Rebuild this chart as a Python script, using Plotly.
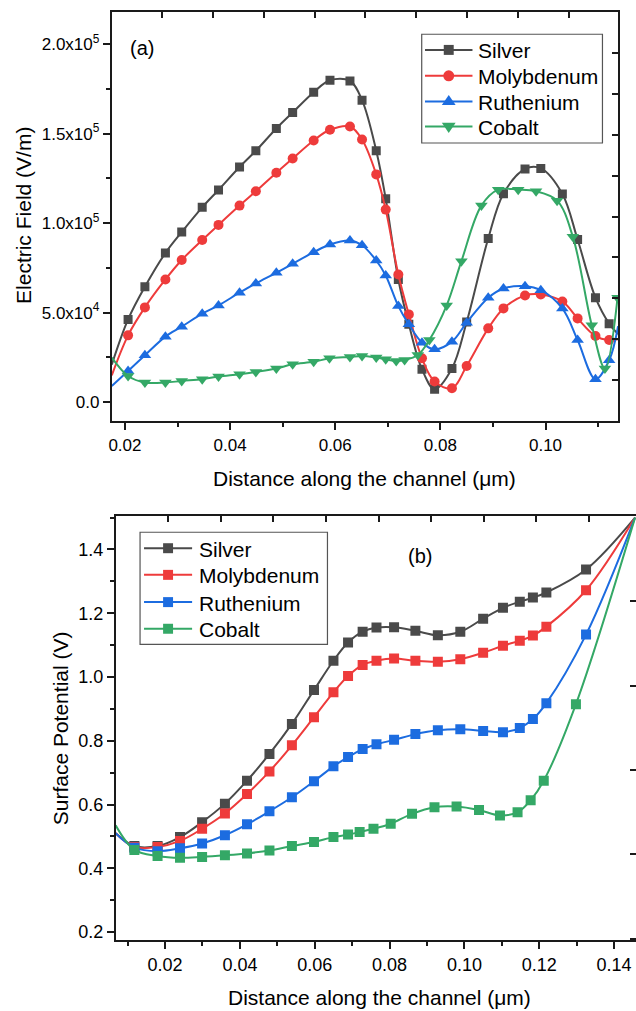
import plotly.graph_objects as go

W, H = 636, 1011

# ---------------- (a) Electric field data ----------------
x_a = [0.0206, 0.0238, 0.0277, 0.0308, 0.0347, 0.0378, 0.0418, 0.0449, 0.0488, 0.0519,
       0.0559, 0.0590, 0.0628, 0.0651, 0.0678, 0.0696, 0.0720, 0.0740, 0.0765, 0.0789,
       0.0822, 0.0850, 0.0891, 0.0920, 0.0961, 0.0991, 0.1032, 0.1061, 0.1095, 0.1121]
ef_silver = [46264, 64491, 83331, 95037, 108860, 118560, 131380, 140465, 152895, 161813,
             173184, 179873, 179483, 168725, 140465, 113710, 68560, 43477, 18394, 7246,
             18784, 44759, 91414, 116497, 130264, 130598, 116329, 90856, 58360, 43867]
ef_moly = [37346, 52953, 68560, 79430, 90578, 99050, 109808, 117780, 128202, 136173,
           146206, 152170, 154010, 146763, 127254, 107578, 71347, 49051, 24526, 11538,
           7804, 20234, 41248, 52396, 59642, 60199, 56297, 46822, 36956, 34726]
ef_ruth = [17447, 26198, 36621, 42195, 49441, 54068, 61147, 66331, 72295, 77311,
           83777, 88069, 90299, 87679, 79151, 70790, 53678, 43477, 33277, 29542,
           33834, 44425, 58360, 63544, 64826, 62596, 52396, 34726, 12820, 23411]
x_a_co = [0.0206, 0.0238, 0.0277, 0.0308, 0.0347, 0.0378, 0.0418, 0.0449, 0.0488, 0.0519,
          0.0559, 0.0589, 0.0628, 0.0651, 0.0678, 0.0696, 0.0716, 0.0732, 0.0757, 0.0779,
          0.0812, 0.0840, 0.0878, 0.0910, 0.0948, 0.0982, 0.1022, 0.1052, 0.1088, 0.1113, 0.1137]
ef_cobalt = [14660, 10981, 10981, 11873, 12820, 14325, 15607, 16889, 18784, 21181,
             22575, 24526, 25250, 25808, 24916, 23968, 23021, 23578, 26365, 34726,
             54068, 78761, 109808, 118726, 118726, 117780, 112595, 92362, 42920, 18784, 58360]
# curve values at the plot edges (line only, no marker)
a_left_x, a_right_x = 0.0175, 0.1138
a_left = {"Silver": 21000, "Molybdenum": 15000, "Ruthenium": 9100, "Cobalt": 24900}
a_right = {"Silver": 38000, "Molybdenum": 35100, "Ruthenium": 42500, "Cobalt": None}

# ---------------- (b) Surface potential data ----------------
x_b = [0.0118, 0.0180, 0.0240, 0.0299, 0.0360, 0.0419, 0.0479, 0.0539, 0.0598, 0.0650,
       0.0689, 0.0728, 0.0765, 0.0812, 0.0869, 0.0929, 0.0989, 0.1050, 0.1103, 0.1148,
       0.1183, 0.1219, 0.1325]
sp_silver = [0.470, 0.470, 0.498, 0.545, 0.603, 0.675, 0.759, 0.853, 0.959, 1.051,
             1.108, 1.142, 1.155, 1.156, 1.145, 1.131, 1.142, 1.183, 1.217, 1.236,
             1.249, 1.265, 1.337]
sp_moly = [0.467, 0.467, 0.486, 0.524, 0.572, 0.633, 0.704, 0.786, 0.874, 0.952,
           1.003, 1.038, 1.051, 1.058, 1.051, 1.048, 1.056, 1.076, 1.098, 1.114,
           1.130, 1.158, 1.272]
sp_ruth = [0.465, 0.454, 0.463, 0.478, 0.504, 0.538, 0.579, 0.623, 0.673, 0.720,
           0.749, 0.774, 0.789, 0.803, 0.821, 0.833, 0.836, 0.831, 0.827, 0.840,
           0.868, 0.918, 1.133]
x_b_co = [0.0118, 0.0180, 0.0240, 0.0299, 0.0360, 0.0419, 0.0479, 0.0539, 0.0598, 0.0650,
          0.0689, 0.0720, 0.0757, 0.0803, 0.0860, 0.0920, 0.0979, 0.1039, 0.1095, 0.1142,
          0.1177, 0.1212, 0.1298]
sp_cobalt = [0.458, 0.439, 0.433, 0.436, 0.441, 0.447, 0.456, 0.470, 0.483, 0.498,
             0.506, 0.514, 0.524, 0.540, 0.571, 0.592, 0.594, 0.583, 0.566, 0.576,
             0.614, 0.675, 0.915]
b_left_x, b_right_x = 0.0068, 0.1456
b_left = {"Silver": 0.51, "Molybdenum": 0.51, "Ruthenium": 0.51, "Cobalt": 0.535}
b_right = {"Silver": 1.50, "Molybdenum": 1.50, "Ruthenium": 1.50, "Cobalt": 1.50}

names = ["Silver", "Molybdenum", "Ruthenium", "Cobalt"]
colors = {"Silver": "#4a4a4a", "Molybdenum": "#ee3b3b", "Ruthenium": "#1c6ce0", "Cobalt": "#34a866"}
symbols_a = {"Silver": "square", "Molybdenum": "circle", "Ruthenium": "triangle-up", "Cobalt": "triangle-down"}
sizes_a = {"Silver": 9, "Molybdenum": 10, "Ruthenium": 11, "Cobalt": 11}

FONT = "Liberation Sans, Arial, sans-serif"

fig = go.Figure()

series_a = {"Silver": (x_a, ef_silver), "Molybdenum": (x_a, ef_moly),
            "Ruthenium": (x_a, ef_ruth), "Cobalt": (x_a_co, ef_cobalt)}
series_b = {"Silver": (x_b, sp_silver), "Molybdenum": (x_b, sp_moly),
            "Ruthenium": (x_b, sp_ruth), "Cobalt": (x_b_co, sp_cobalt)}


def add_series(xs, ys, lx, ly, rx, ry, color, symbol, size, xa, ya, name):
    lxs = ([lx] if ly is not None else []) + list(xs) + ([rx] if ry is not None else [])
    lys = ([ly] if ly is not None else []) + list(ys) + ([ry] if ry is not None else [])
    fig.add_trace(go.Scatter(x=lxs, y=lys, mode="lines", xaxis=xa, yaxis=ya,
                             line=dict(color=color, width=2, shape="spline", smoothing=1.0),
                             showlegend=False, hoverinfo="skip", name=name))
    fig.add_trace(go.Scatter(x=xs, y=ys, mode="markers", xaxis=xa, yaxis=ya,
                             marker=dict(symbol=symbol, size=size, color=color, line=dict(width=0)),
                             showlegend=False, name=name))


for n in names:
    xs, ys = series_a[n]
    add_series(xs, ys, a_left_x, a_left[n], a_right_x, a_right[n], colors[n],
               symbols_a[n], sizes_a[n], "x", "y", n)
for n in names:
    xs, ys = series_b[n]
    add_series(xs, ys, b_left_x, b_left[n], b_right_x, b_right[n], colors[n],
               "square", 10, "x2", "y2", n)

# dummy traces so the overlay tick-only axes are rendered
fig.add_trace(go.Scatter(x=[None], y=[None], xaxis="x3", yaxis="y3", showlegend=False, hoverinfo="skip"))
fig.add_trace(go.Scatter(x=[None], y=[None], xaxis="x4", yaxis="y4", showlegend=False, hoverinfo="skip"))

AX = "#1a1a1a"
tickfont_a = dict(family=FONT, size=17, color="black")
tickfont_b = dict(family=FONT, size=18, color="black")

xa_range = [0.0175, 0.1138]
ya_range = [-10760, 217800]
xb_range = [0.00683, 0.14585]
yb_range = [0.175, 1.504]

dom_xa = [109.3 / W, 618 / W]
dom_ya = [1 - 422.3 / H, 1 - 12.3 / H]
dom_xb = [113.3 / W, 1.0]
dom_yb = [1 - 942 / H, 1 - 517.3 / H]

ef_tickvals = [0, 50000, 100000, 150000, 200000]
ef_ticktext = ["0.0", "5.0x10<sup>4</sup>", "1.0x10<sup>5</sup>", "1.5x10<sup>5</sup>", "2.0x10<sup>5</sup>"]

fig.update_layout(
    width=W, height=H, margin=dict(l=0, r=0, t=0, b=0),
    paper_bgcolor="white", plot_bgcolor="white",
    font=dict(family=FONT, color="black"), showlegend=False,
    xaxis=dict(domain=dom_xa, anchor="y", range=xa_range, showgrid=False, zeroline=False,
               showline=True, linecolor=AX, linewidth=2, mirror=True,
               ticks="outside", ticklen=7, tickwidth=1.5, tickcolor=AX,
               tickmode="linear", tick0=0, dtick=0.02, tickformat=".2f", tickfont=tickfont_a,
               minor=dict(ticks="outside", ticklen=4, tickwidth=1.5, tickcolor=AX, dtick=0.01, tick0=0)),
    yaxis=dict(domain=dom_ya, anchor="x", range=ya_range, showgrid=False, zeroline=False,
               showline=True, linecolor=AX, linewidth=2, mirror=True,
               ticks="outside", ticklen=7, tickwidth=1.5, tickcolor=AX,
               tickmode="array", tickvals=ef_tickvals, ticktext=ef_ticktext, tickfont=tickfont_a,
               minor=dict(ticks="outside", ticklen=4, tickwidth=1.5, tickcolor=AX,
                          tickmode="array", tickvals=[25000, 75000, 125000, 175000])),
    xaxis3=dict(overlaying="x", anchor="y", side="top", range=xa_range, showgrid=False, zeroline=False,
                showline=False, ticks="inside", ticklen=6, tickwidth=1.5, tickcolor=AX,
                tickmode="linear", tick0=0.02707, dtick=0.00967, showticklabels=False),
    yaxis3=dict(overlaying="y", anchor="x", side="right", range=ya_range, showgrid=False, zeroline=False,
                showline=False, ticks="inside", ticklen=6, tickwidth=1.5, tickcolor=AX,
                tickmode="linear", tick0=12263, dtick=22860, showticklabels=False),
    xaxis2=dict(domain=dom_xb, anchor="y2", range=xb_range, showgrid=False, zeroline=False,
                showline=True, linecolor=AX, linewidth=2, mirror=True,
                ticks="outside", ticklen=7, tickwidth=1.5, tickcolor=AX,
                tickmode="linear", tick0=0, dtick=0.02, tickformat=".2f", tickfont=tickfont_b,
                minor=dict(ticks="outside", ticklen=4, tickwidth=1.5, tickcolor=AX, dtick=0.01, tick0=0)),
    yaxis2=dict(domain=dom_yb, anchor="x2", range=yb_range, showgrid=False, zeroline=False,
                showline=True, linecolor=AX, linewidth=2, mirror=False,
                ticks="outside", ticklen=7, tickwidth=1.5, tickcolor=AX,
                tickmode="linear", tick0=0, dtick=0.2, tickformat=".1f", tickfont=tickfont_b,
                minor=dict(ticks="outside", ticklen=4, tickwidth=1.5, tickcolor=AX, dtick=0.1, tick0=0)),
    xaxis4=dict(overlaying="x2", anchor="y2", side="top", range=xb_range, showgrid=False, zeroline=False,
                showline=False, ticks="inside", ticklen=6, tickwidth=1.5, tickcolor=AX,
                tickmode="linear", tick0=0.0208, dtick=0.01406, showticklabels=False),
    yaxis4=dict(overlaying="y2", anchor="x2", side="right", range=yb_range, showgrid=False, zeroline=False,
                showline=False, ticks="inside", ticklen=6, tickwidth=1.5, tickcolor=AX,
                tickmode="linear", tick0=0.179, dtick=0.2646, showticklabels=False),
)


def px(x):
    return x / W


def py(y):
    return 1 - y / H


def ann(text, x, y, size, angle=0, xanchor="center"):
    fig.add_annotation(text=text, x=px(x), y=py(y), xref="paper", yref="paper",
                       xanchor=xanchor, yanchor="middle", showarrow=False, textangle=angle,
                       font=dict(family=FONT, size=size, color="black"))


ann("Distance along the channel (μm)", 363.5, 479, 21)
ann("Electric Field (V/m)", 20.5, 216, 21, -90)
ann("Distance along the channel (μm)", 378, 999, 21)
ann("Surface Potential (V)", 58, 730, 21, -90)
ann("(a)", 140, 48, 20)
ann("(b)", 419, 557, 20)


# ---------------- legends (drawn as boxed keys) ----------------
def marker_shape(sym, cx, cy, s, color):
    r = s / 2.0
    if sym == "square":
        fig.add_shape(type="rect", xref="paper", yref="paper", x0=px(cx - r), x1=px(cx + r),
                      y0=py(cy + r), y1=py(cy - r), fillcolor=color, line=dict(width=0))
    elif sym == "circle":
        fig.add_shape(type="circle", xref="paper", yref="paper", x0=px(cx - r), x1=px(cx + r),
                      y0=py(cy + r), y1=py(cy - r), fillcolor=color, line=dict(width=0))
    else:
        rt = r * 1.155
        if sym == "triangle-up":
            pts = [(cx - rt, cy + r * 0.6), (cx + rt, cy + r * 0.6), (cx, cy - r * 1.1)]
        else:
            pts = [(cx - rt, cy - r * 0.6), (cx + rt, cy - r * 0.6), (cx, cy + r * 1.1)]
        path = "M {:.5f},{:.5f} L {:.5f},{:.5f} L {:.5f},{:.5f} Z".format(
            px(pts[0][0]), py(pts[0][1]), px(pts[1][0]), py(pts[1][1]), px(pts[2][0]), py(pts[2][1]))
        fig.add_shape(type="path", xref="paper", yref="paper", path=path,
                      fillcolor=color, line=dict(width=0))


def legend_box(x0, x1, y0, y1, rows, lx0, lx1, tx, syms, size):
    fig.add_shape(type="rect", xref="paper", yref="paper", x0=px(x0), x1=px(x1),
                  y0=py(y1), y1=py(y0), fillcolor="white", line=dict(color="#555555", width=1.2))
    for n, ry in zip(names, rows):
        fig.add_shape(type="line", xref="paper", yref="paper", x0=px(lx0), x1=px(lx1),
                      y0=py(ry), y1=py(ry), line=dict(color=colors[n], width=2))
        marker_shape(syms[n], (lx0 + lx1) / 2, ry, size[n], colors[n])
        ann(n, tx, ry + 1, 21, xanchor="left")


legend_box(420.7, 602.3, 34.3, 143.3, [50, 76, 101.7, 126.7], 424, 471.7, 475.5,
           symbols_a, {"Silver": 10, "Molybdenum": 11, "Ruthenium": 12, "Cobalt": 12})
legend_box(137.7, 326, 533.3, 645.7, [549.3, 576, 603.3, 630], 141.7, 190, 194.5,
           {n: "square" for n in names}, {n: 10 for n in names})

fig.write_html("out.html")
